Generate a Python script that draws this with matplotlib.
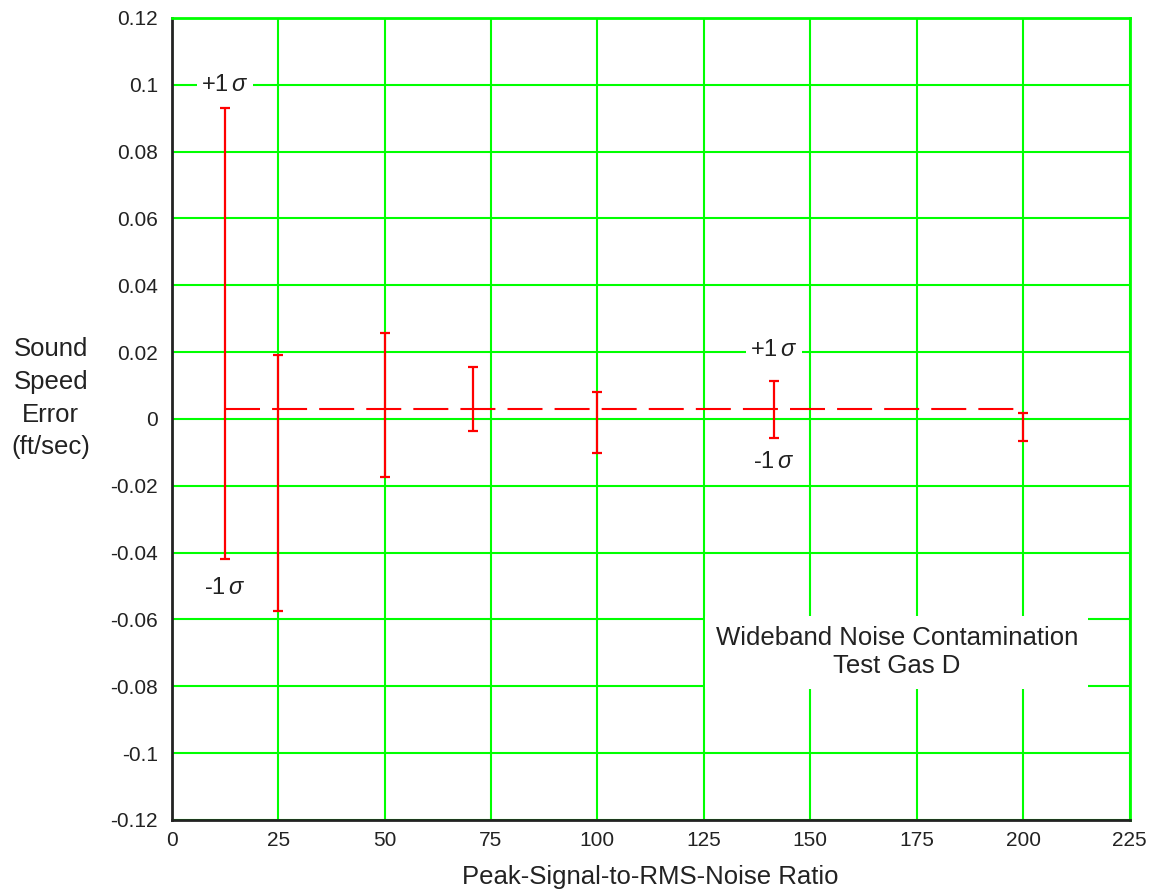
import numpy as np
import matplotlib.pyplot as plt

plt.rcParams['font.family'] = ['Liberation Sans', 'DejaVu Sans']
plt.rcParams['mathtext.fontset'] = 'custom'
plt.rcParams['mathtext.it'] = 'Liberation Sans:italic'

# peak-signal-to-rms-noise ratio and +/-1 sigma sound speed error (ft/sec)
snr = [12.5, 25, 50, 70.7, 100, 141.4, 200]
err_hi = [0.093, 0.0192, 0.0257, 0.0155, 0.0082, 0.0113, 0.0018]
err_lo = [-0.042, -0.0576, -0.0175, -0.0037, -0.0103, -0.0056, -0.0066]
mean_err = 0.003

x_ticks = [0, 25, 50, 75, 100, 125, 150, 175, 200, 225]
y_ticks = [-0.12, -0.1, -0.08, -0.06, -0.04, -0.02, 0, 0.02, 0.04, 0.06, 0.08, 0.1, 0.12]
y_labels = ["-0.12", "-0.1", "-0.08", "-0.06", "-0.04", "-0.02", "0",
            "0.02", "0.04", "0.06", "0.08", "0.1", "0.12"]

fig = plt.figure(figsize=(11.52, 8.91), dpi=100)
ax = fig.add_axes([0.149, 0.0797, 0.8316, 0.9001])

hi = np.array(err_hi)
lo = np.array(err_lo)
mid = (hi + lo) / 2
half = (hi - lo) / 2
ax.errorbar(snr, mid, yerr=half, fmt='none', ecolor='red', elinewidth=1.6,
            capsize=3.6, capthick=1.6, zorder=4)
ax.plot([snr[0], snr[-1]], [mean_err, mean_err], color='red', lw=1.5,
        dashes=(16.8, 5.8), zorder=4)

ax.set_xlim(0, 225)
ax.set_ylim(-0.12, 0.12)
ax.set_xticks(x_ticks)
ax.set_yticks(y_ticks)
ax.set_yticklabels(y_labels)
ax.tick_params(length=0, labelsize=15, colors='#222222')
ax.tick_params(axis='y', pad=10)
ax.tick_params(axis='x', pad=8)
ax.grid(True, color='#00ff00', lw=1.5, zorder=1)
ax.set_axisbelow(True)
for s in ['left', 'bottom']:
    ax.spines[s].set_color('#222222')
    ax.spines[s].set_linewidth(2)
for s in ['top', 'right']:
    ax.spines[s].set_color('#00ff00')
    ax.spines[s].set_linewidth(2)

ax.set_xlabel("Peak-Signal-to-RMS-Noise Ratio", fontsize=18.5, color='#222222', labelpad=11)
fig.text(0.044, 0.553, "Sound\nSpeed\nError\n(ft/sec)", ha='center', va='center',
         fontsize=18.5, color='#222222', linespacing=1.45)

box = dict(facecolor='white', edgecolor='none', pad=3)
ax.text(12.5, 0.1, r"+1$\,\sigma$", ha='center', va='center', fontsize=17, bbox=box,
        color='#222222', zorder=5)
ax.text(12.5, -0.0505, r"-1$\,\sigma$", ha='center', va='center', fontsize=17,
        color='#222222', zorder=5)
ax.text(141.4, 0.0205, r"+1$\,\sigma$", ha='center', va='center', fontsize=17, bbox=box,
        color='#222222', zorder=5)
ax.text(141.4, -0.013, r"-1$\,\sigma$", ha='center', va='center', fontsize=17,
        color='#222222', zorder=5)
ax.text(170.3, -0.0698, "Wideband Noise Contamination\nTest Gas D", ha='center', va='center',
        fontsize=18.5, linespacing=1.22, color='#222222', zorder=5,
        bbox=dict(facecolor='white', edgecolor='none', pad=7.5))

fig.savefig("out.png", dpi=100)
